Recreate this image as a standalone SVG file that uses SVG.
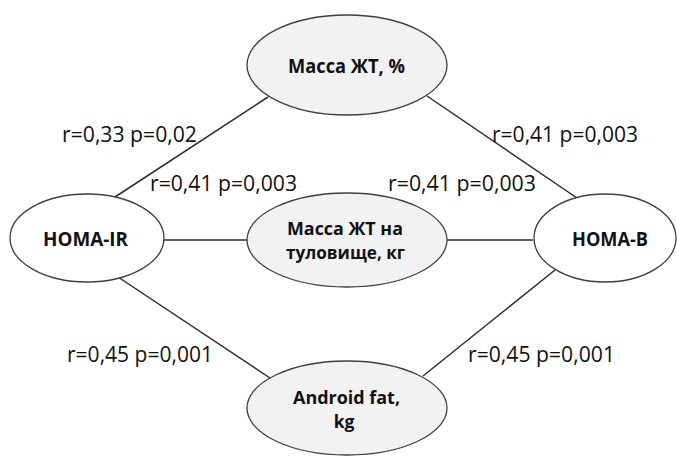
<svg xmlns="http://www.w3.org/2000/svg" width="677" height="457" viewBox="0 0 677 457">
  <style>
    .node { stroke: #3f3f3f; stroke-width: 1.3; }
    .shaded { fill: #f2f2f2; }
    .plain { fill: #ffffff; }
    .edge { stroke: #2b2b2b; stroke-width: 1.5; fill: none; }
    .title { font-family: "Open Sans", "Liberation Sans", sans-serif; font-weight: bold; font-size: 19px; fill: #111111; }
    .title.two { font-size: 17.5px; }
    .stat { font-family: "Open Sans", "Liberation Sans", sans-serif; font-size: 21px; fill: #111111; }
  </style>
  <rect width="677" height="457" fill="#ffffff"/>

  <!-- connectors between the variables -->
  <g id="connectors">
    <line class="edge" x1="115" y1="197" x2="268" y2="97"/>
    <line class="edge" x1="427" y1="96" x2="577" y2="198"/>
    <line class="edge" x1="164" y1="240" x2="247" y2="240"/>
    <line class="edge" x1="447" y1="240" x2="533" y2="240"/>
    <line class="edge" x1="118" y1="277" x2="270" y2="378"/>
    <line class="edge" x1="555" y1="270" x2="423" y2="376"/>
  </g>

  <g id="node-fat-mass-pct">
    <ellipse class="node shaded" cx="347" cy="65" rx="100" ry="50"/>
    <text class="title" x="288" y="73" textLength="117" lengthAdjust="spacingAndGlyphs">Масса ЖТ, %</text>
  </g>

  <g id="node-homa-ir">
    <ellipse class="node plain" cx="87" cy="238" rx="77" ry="44"/>
    <text class="title" x="43" y="246" textLength="85" lengthAdjust="spacingAndGlyphs">HOMA-IR</text>
  </g>

  <g id="node-trunk-fat">
    <ellipse class="node shaded" cx="347" cy="240" rx="100" ry="47"/>
    <text class="title two" x="287" y="235" textLength="116" lengthAdjust="spacingAndGlyphs">Масса ЖТ на</text>
    <text class="title two" x="286" y="259" textLength="119" lengthAdjust="spacingAndGlyphs">туловище, кг</text>
  </g>

  <g id="node-homa-b">
    <ellipse class="node plain" cx="605" cy="238" rx="71" ry="44"/>
    <text class="title" x="572" y="246" textLength="76" lengthAdjust="spacingAndGlyphs">HOMA-B</text>
  </g>

  <g id="node-android-fat">
    <ellipse class="node shaded" cx="347" cy="408" rx="100" ry="47"/>
    <text class="title two" x="293" y="404" textLength="107" lengthAdjust="spacingAndGlyphs">Android fat,</text>
    <text class="title two" x="344" y="428" text-anchor="middle">kg</text>
  </g>

  <!-- correlation labels -->
  <g id="labels">
    <text class="stat" x="62" y="142" textLength="135" lengthAdjust="spacingAndGlyphs">r=0,33 p=0,02</text>
    <text class="stat" x="492" y="142" textLength="146" lengthAdjust="spacingAndGlyphs">r=0,41 p=0,003</text>
    <text class="stat" x="150" y="191" textLength="147" lengthAdjust="spacingAndGlyphs">r=0,41 p=0,003</text>
    <text class="stat" x="388" y="191" textLength="148" lengthAdjust="spacingAndGlyphs">r=0,41 p=0,003</text>
    <text class="stat" x="67" y="362" textLength="146" lengthAdjust="spacingAndGlyphs">r=0,45 p=0,001</text>
    <text class="stat" x="468" y="362" textLength="147" lengthAdjust="spacingAndGlyphs">r=0,45 p=0,001</text>
  </g>
</svg>
